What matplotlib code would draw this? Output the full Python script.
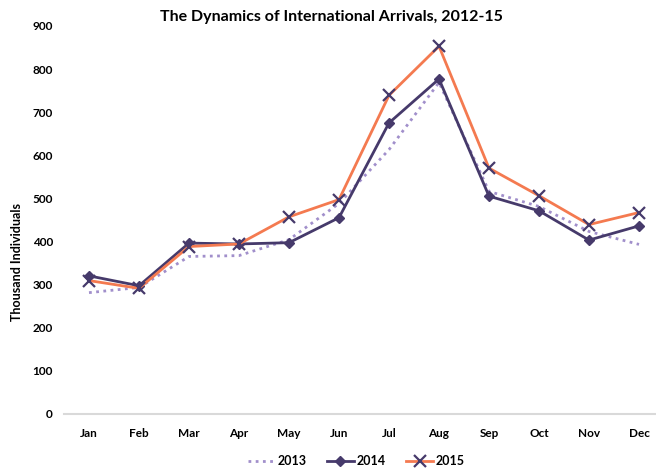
import matplotlib.pyplot as plt
import numpy as np

plt.rcParams['font.family'] = ['Lato', 'DejaVu Sans']

months = ['Jan', 'Feb', 'Mar', 'Apr', 'May', 'Jun', 'Jul', 'Aug', 'Sep', 'Oct', 'Nov', 'Dec']
y2013 = [281, 293, 365, 367, 404, 488, 613, 769, 516, 481, 423, 393]
y2014 = [320, 297, 396, 394, 397, 455, 675, 777, 505, 471, 403, 436]
y2015 = [309, 291, 388, 394, 457, 497, 739, 853, 570, 506, 439, 467]
yticks = [0, 100, 200, 300, 400, 500, 600, 700, 800, 900]

purple = '#463a6b'
lilac = '#a18fcb'
orange = '#f47a50'

fig = plt.figure(figsize=(6.56, 4.68), dpi=100)
ax = fig.add_axes([64 / 656, 1 - 413.7 / 468, 600 / 656, (413.7 - 26) / 468])

x = np.arange(len(months))
ax.plot(x, y2013, color=lilac, lw=2, ls=(0, (1, 1.6)), label='2013')
ax.plot(x, y2014, color=purple, lw=2, marker='D', ms=5, label='2014')
ax.plot(x, y2015, color=orange, lw=2, marker='x', ms=8, mew=1.6,
        mec=purple, label='2015')

ax.set_xlim(-0.5, 11.5)
ax.set_ylim(0, 900)
ax.set_xticks(x)
ax.set_xticklabels(months)
ax.set_yticks(yticks)
for s in ['top', 'right', 'left']:
    ax.spines[s].set_visible(False)
ax.spines['bottom'].set_color('#d9d9d9')
ax.spines['bottom'].set_linewidth(1.5)
ax.tick_params(length=0, labelsize=8.5, pad=10)
ax.tick_params(axis='y', pad=8)
for lab in ax.get_xticklabels() + ax.get_yticklabels():
    lab.set_fontweight('bold')

ax.set_ylabel('Thousand Individuals', fontsize=9, fontweight='bold')
ax.yaxis.set_label_coords(-0.068, 0.39)
fig.text(0.505, 0.963, 'The Dynamics of International Arrivals, 2012-15',
         ha='center', va='center', fontsize=11.5, fontweight='bold')

fig.legend(loc='center', bbox_to_anchor=(0.543, 0.015), ncol=3, frameon=False,
           prop={'weight': 'bold', 'size': 9}, handlelength=2.2, columnspacing=1.6,
           handletextpad=0.2)

fig.savefig('out.png', dpi=100)
